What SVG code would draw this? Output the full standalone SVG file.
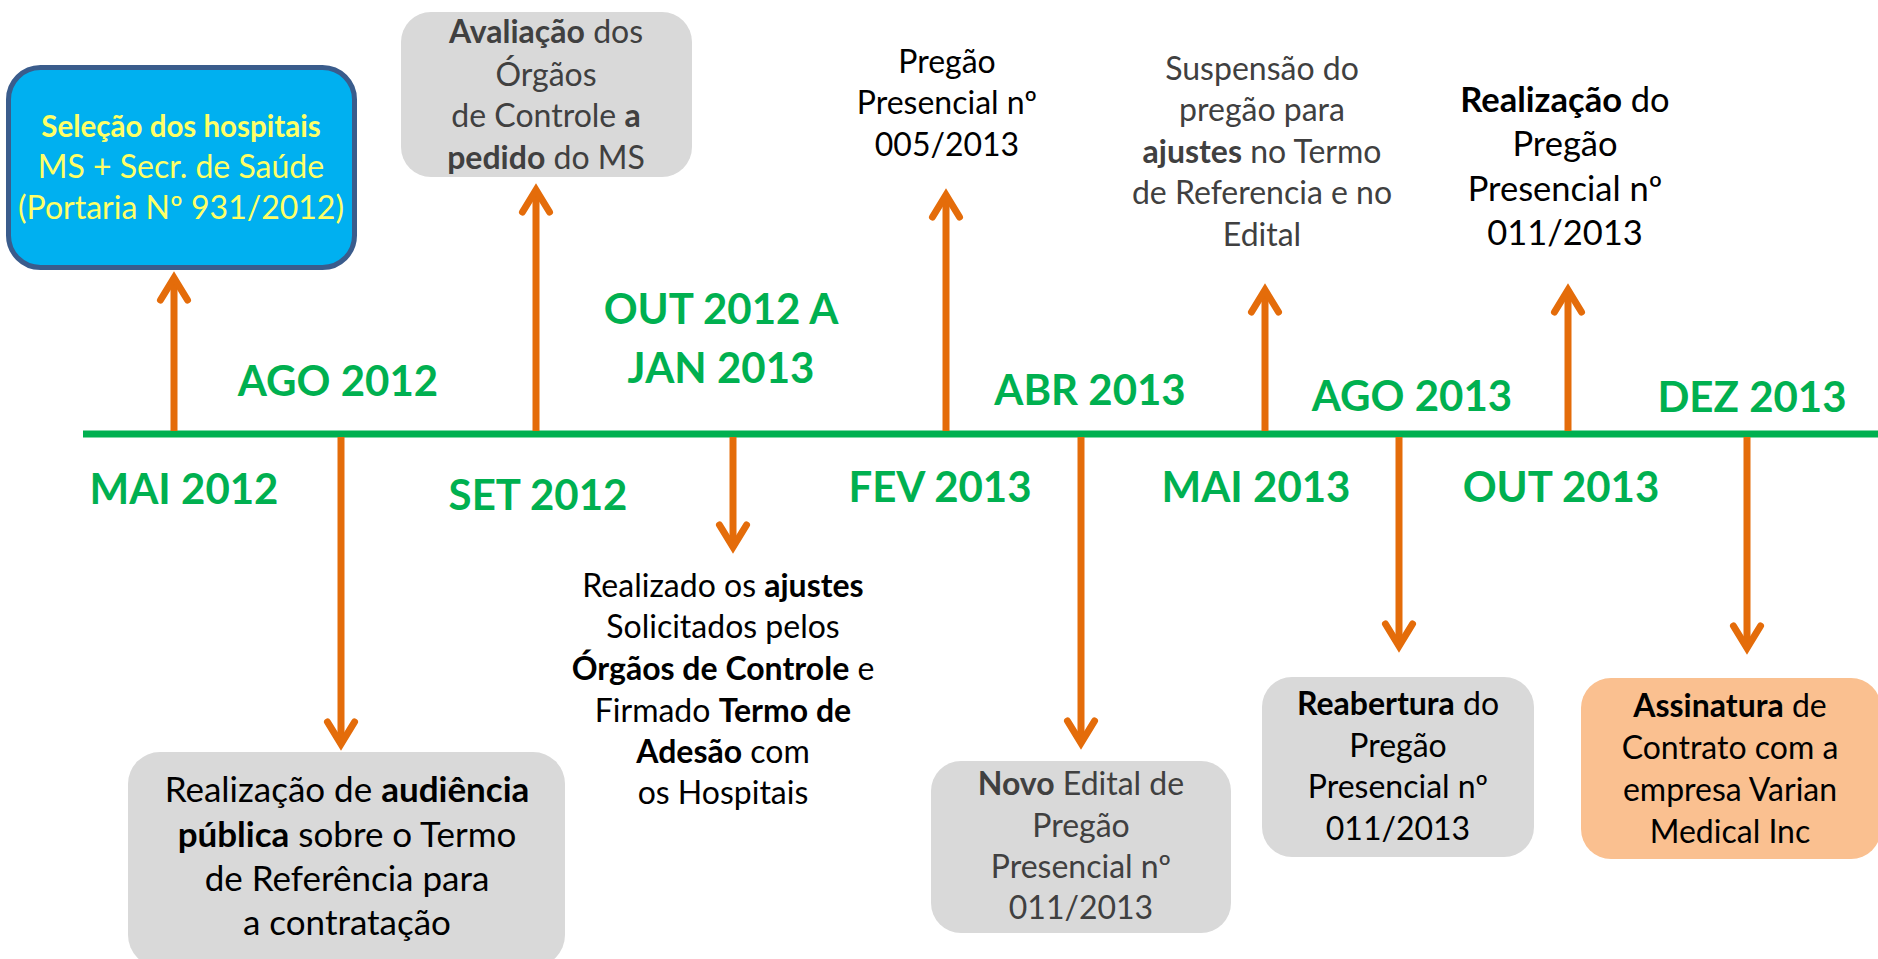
<svg xmlns="http://www.w3.org/2000/svg" width="1878" height="959" viewBox="0 0 1878 959">
<style>
.t{font-family:Lato,"Liberation Sans",Arial,sans-serif;font-size:32px;text-anchor:middle}
.b{font-weight:bold}
.m{font-family:Lato,"Liberation Sans",Arial,sans-serif;font-size:42px;font-weight:bold;fill:#00B050;text-anchor:middle}
.gray{fill:#404040}
.blk{fill:#000000}
.yel{fill:#FFFF66}
.box{fill:#D9D9D9}
.conn line{stroke:#E46C0A;stroke-width:7;marker-end:url(#ah)}
</style>
<defs>
<marker id="ah" markerUnits="userSpaceOnUse" viewBox="-40 -30 60 60" markerWidth="60" markerHeight="60" refX="0" refY="0" orient="auto" overflow="visible">
<path d="M-22,-13.5 L0,0 L-22,13.5" fill="none" stroke="#E46C0A" stroke-width="7" stroke-linecap="round" stroke-linejoin="miter"/>
</marker>
</defs>
<rect width="1878" height="959" fill="#FFFFFF"/>
<g id="timeline">
<line x1="83" y1="434" x2="1878" y2="434" stroke="#00B050" stroke-width="7"/>
</g>
<g id="connectors" class="conn">
<line x1="174" y1="431" x2="174" y2="278"/>
<line x1="536" y1="431" x2="536" y2="190"/>
<line x1="946" y1="431" x2="946" y2="195"/>
<line x1="1265" y1="431" x2="1265" y2="290"/>
<line x1="1568" y1="431" x2="1568" y2="290"/>
<line x1="341" y1="437" x2="341" y2="744"/>
<line x1="733" y1="437" x2="733" y2="547"/>
<line x1="1081" y1="437" x2="1081" y2="743"/>
<line x1="1399" y1="437" x2="1399" y2="646"/>
<line x1="1747" y1="437" x2="1747" y2="648"/>
</g>
<g id="labels">
<text class="m" x="184" y="504">MAI 2012</text>
<text class="m" x="338" y="396">AGO 2012</text>
<text class="m" x="538" y="510">SET 2012</text>
<text class="m" x="721" y="324">OUT 2012 A</text>
<text class="m" x="721" y="383">JAN 2013</text>
<text class="m" x="940" y="502">FEV 2013</text>
<text class="m" x="1090" y="405">ABR 2013</text>
<text class="m" x="1256" y="502">MAI 2013</text>
<text class="m" x="1412" y="411">AGO 2013</text>
<text class="m" x="1561" y="502">OUT 2013</text>
<text class="m" x="1752" y="412">DEZ 2013</text>
</g>
<g id="n-selecao">
<rect x="8.5" y="67.5" width="346" height="200" rx="32" fill="#00B0F0" stroke="#3A5C8C" stroke-width="5"/>
<text class="t yel"><tspan class="b" x="181" y="137" style="font-size:29.5px">Seleção dos hospitais</tspan><tspan x="181" y="178">MS + Secr. de Saúde</tspan><tspan x="181" y="219">(Portaria Nº 931/2012)</tspan></text>
</g>
<g id="n-avaliacao">
<rect class="box" x="401" y="12" width="291" height="165" rx="30"/>
<text class="t gray"><tspan x="546" y="43"><tspan class="b">Avaliação</tspan> dos</tspan><tspan x="546" y="86">Órgãos</tspan><tspan x="546" y="127">de Controle <tspan class="b">a</tspan></tspan><tspan x="546" y="169"><tspan class="b">pedido</tspan> do MS</tspan></text>
</g>
<g id="n-pregao005">
<text class="t blk"><tspan x="947" y="73">Pregão</tspan><tspan x="947" y="114">Presencial nº</tspan><tspan x="947" y="156">005/2013</tspan></text>
</g>
<g id="n-suspensao">
<text class="t gray"><tspan x="1262" y="80">Suspensão do</tspan><tspan x="1262" y="121">pregão para</tspan><tspan x="1262" y="163"><tspan class="b">ajustes</tspan> no Termo</tspan><tspan x="1262" y="204">de Referencia e no</tspan><tspan x="1262" y="246">Edital</tspan></text>
</g>
<g id="n-realizacao011">
<text class="t blk" style="font-size:34.5px"><tspan x="1565" y="112"><tspan class="b">Realização</tspan> do</tspan><tspan x="1565" y="156">Pregão</tspan><tspan x="1565" y="201">Presencial nº</tspan><tspan x="1565" y="245">011/2013</tspan></text>
</g>
<g id="n-audiencia">
<rect class="box" x="128" y="752" width="437" height="215" rx="32"/>
<text class="t blk" style="font-size:35px"><tspan x="347" y="802">Realização de <tspan class="b">audiência</tspan></tspan><tspan x="347" y="847"><tspan class="b">pública</tspan> sobre o Termo</tspan><tspan x="347" y="891">de Referência para</tspan><tspan x="347" y="935">a contratação</tspan></text>
</g>
<g id="n-ajustes">
<text class="t blk"><tspan x="723" y="597">Realizado os <tspan class="b">ajustes</tspan></tspan><tspan x="723" y="638">Solicitados pelos</tspan><tspan x="723" y="680"><tspan class="b">Órgãos de Controle</tspan> e</tspan><tspan x="723" y="722">Firmado <tspan class="b">Termo de</tspan></tspan><tspan x="723" y="763"><tspan class="b">Adesão</tspan> com</tspan><tspan x="723" y="804">os Hospitais</tspan></text>
</g>
<g id="n-novoedital">
<rect class="box" x="931" y="761" width="300" height="172" rx="30"/>
<text class="t gray"><tspan x="1081" y="795"><tspan class="b">Novo</tspan> Edital de</tspan><tspan x="1081" y="837">Pregão</tspan><tspan x="1081" y="878">Presencial nº</tspan><tspan x="1081" y="919">011/2013</tspan></text>
</g>
<g id="n-reabertura">
<rect class="box" x="1262" y="677" width="272" height="180" rx="30"/>
<text class="t blk"><tspan x="1398" y="715"><tspan class="b">Reabertura</tspan> do</tspan><tspan x="1398" y="757">Pregão</tspan><tspan x="1398" y="798">Presencial nº</tspan><tspan x="1398" y="840">011/2013</tspan></text>
</g>
<g id="n-assinatura">
<rect x="1581" y="678" width="300" height="181" rx="30" fill="#FAC090"/>
<text class="t blk"><tspan x="1730" y="717"><tspan class="b">Assinatura</tspan> de</tspan><tspan x="1730" y="759">Contrato com a</tspan><tspan x="1730" y="801">empresa Varian</tspan><tspan x="1730" y="843">Medical Inc</tspan></text>
</g>
</svg>
